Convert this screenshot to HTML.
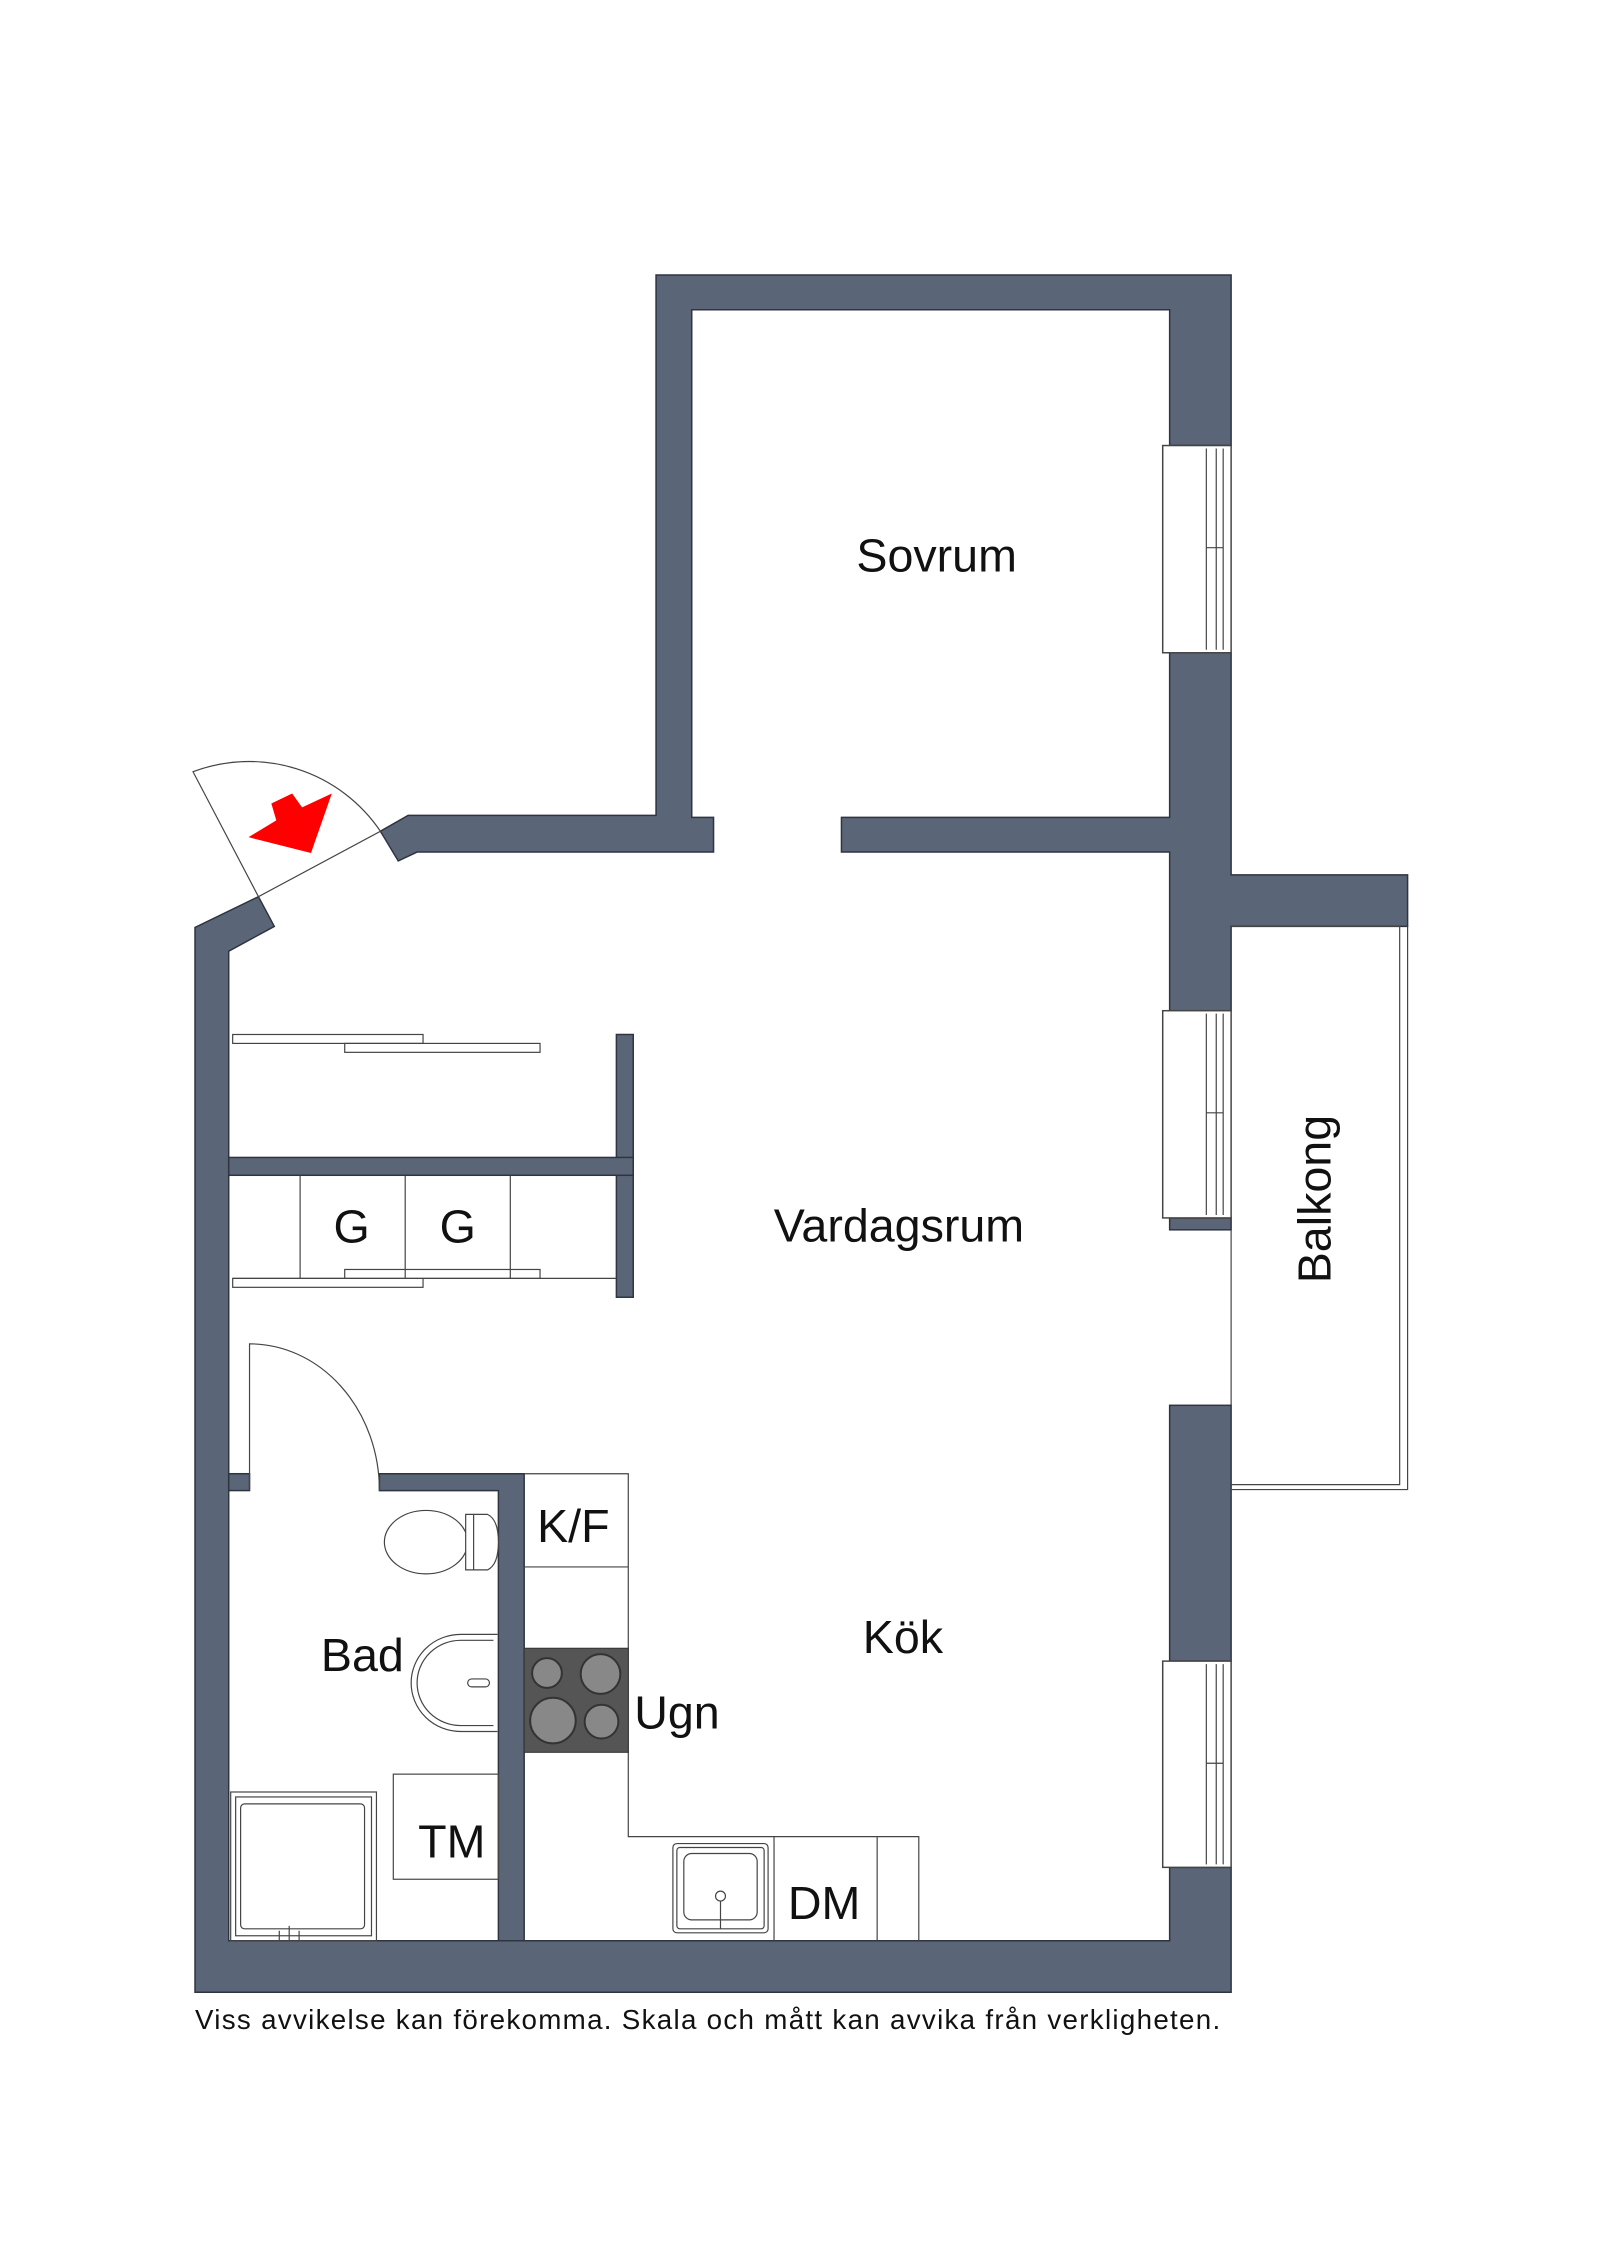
<!DOCTYPE html>
<html><head><meta charset="utf-8"><style>
html,body{margin:0;padding:0;background:#fff;}
svg{display:block;}
text{font-family:"Liberation Sans",Arial,sans-serif;fill:#111;}
</style></head><body>
<svg width="1600" height="2262" viewBox="0 0 1600 2262" xmlns="http://www.w3.org/2000/svg">
<g transform="translate(195,275) scale(0.9915) translate(-195,-275)">
<g fill="#5a6577" stroke="#2e3440" stroke-width="1.5">
<polygon points="660,275 1240,275 1240,447 1178,447 1178,310 696,310 696,822 718,822 718,857 419,857 400,866 382,836 410,820 660,820"/>
<polygon points="1178,656 1240,656 1240,880 1418,880 1418,932 1240,932 1240,1017 1178,1017 1178,857 847,857 847,822 1178,822"/>
<rect x="1178" y="1226" width="62" height="12"/>
<rect x="1178" y="1415" width="62" height="258"/>
<polygon points="1178,1881 1240,1881 1240,2007 195,2007 195,933 259,902 275,932 229,957 229,1955 1178,1955"/>
<rect x="620" y="1041" width="17" height="265"/>
<rect x="229" y="1165" width="408" height="18"/>
<rect x="229" y="1484" width="21" height="17"/>
<polygon points="381,1484 527,1484 527,1955 501,1955 501,1501 381,1501"/>
</g>
<g fill="#fff" stroke="#444" stroke-width="1.5">
<rect x="1171" y="447" width="69" height="209"/>
<rect x="1171" y="1017" width="69" height="209"/>
<rect x="1171" y="1673" width="69" height="208"/>
</g>
<g stroke="#444" stroke-width="1.2" fill="none">
<path d="M1215,450V653M1225,450V653M1232,450V653M1215,550H1232"/>
<path d="M1215,1020V1223M1225,1020V1223M1232,1020V1223M1215,1120H1232"/>
<path d="M1215,1676V1878M1225,1676V1878M1232,1676V1878M1215,1776H1232"/>
<path d="M1240,932H1410V1495H1240M1418,932V1500H1240"/>
<path d="M1240,1238V1415"/>
<path d="M259,902L193,776A160,160 0 0 1 382,836Z" fill="#fff"/>
<path d="M250,1501V1353A131,148 0 0 1 381,1501"/>
<rect x="233" y="1041" width="192" height="9" fill="#fff"/>
<rect x="346" y="1050" width="197" height="9" fill="#fff"/>
<rect x="233" y="1287" width="192" height="9" fill="#fff"/>
<rect x="346" y="1278" width="197" height="9" fill="#fff"/>
<path d="M301,1183V1287M407,1183V1287M513,1183V1287M233,1287H620"/>
<path d="M527,1484H632V1850H925V1955M632,1578H527M779,1850V1955M883,1850V1955"/>
<rect x="677" y="1857" width="96" height="90" rx="4"/>
<rect x="681" y="1861" width="88" height="82" rx="3"/>
<rect x="688" y="1867" width="74" height="67" rx="8"/>
<circle cx="725" cy="1910" r="5"/><path d="M725,1915V1943"/>
<ellipse cx="428" cy="1553" rx="42" ry="32"/>
<path d="M468,1525H490Q501,1530 501,1553Q501,1576 490,1581H468Z" fill="#fff"/>
<path d="M476,1525V1581"/>
<path d="M500,1646H463A50,49 0 0 0 463,1744H500"/>
<path d="M496,1652H463A44,43 0 0 0 463,1738H496"/>
<rect x="470" y="1691" width="22" height="8" rx="4"/>
<rect x="395" y="1787" width="106" height="106"/>
<rect x="231" y="1805" width="147" height="150"/>
<rect x="236" y="1810" width="137" height="140"/>
<rect x="241" y="1817" width="125" height="126" rx="4"/>
<path d="M280,1945v10M290,1940v15M300,1945v10"/>
</g>
<rect x="527" y="1660" width="105" height="105" fill="#555" stroke="#333"/>
<g fill="#888" stroke="#333" stroke-width="2">
<circle cx="550" cy="1685" r="15"/><circle cx="604" cy="1686" r="20"/>
<circle cx="556" cy="1733" r="23"/><circle cx="605" cy="1734" r="17"/>
</g>
<polygon points="249,842 277,825 272,808 293,798 303,812 333,798 312,858" fill="#f00"/>
<g font-size="47">
<text x="943" y="574" text-anchor="middle">Sovrum</text>
<text x="905" y="1250" text-anchor="middle">Vardagsrum</text>
<text x="909" y="1665" text-anchor="middle">Kök</text>
<text x="322" y="1683">Bad</text>
<text x="638" y="1741">Ugn</text>
<text x="540" y="1553">K/F</text>
<text x="353" y="1251" text-anchor="middle">G</text>
<text x="460" y="1251" text-anchor="middle">G</text>
<text x="454" y="1871" text-anchor="middle">TM</text>
<text x="793" y="1933">DM</text>
<text transform="translate(1340,1207) rotate(-90)" text-anchor="middle">Balkong</text>
</g>
<text x="195" y="2044" font-size="28" textLength="1034">Viss avvikelse kan förekomma. Skala och mått kan avvika från verkligheten.</text>
</g>
</svg>
</body></html>
